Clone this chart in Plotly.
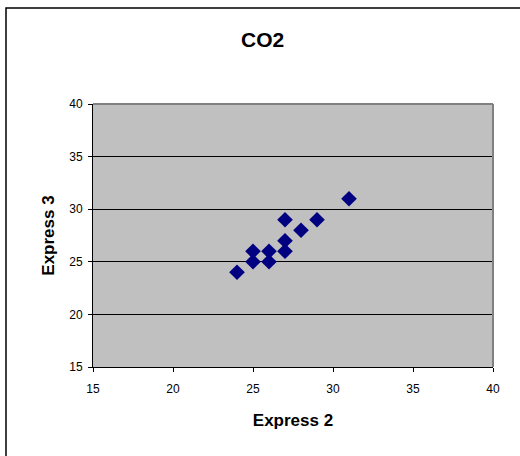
import plotly.graph_objects as go

# CO2 readings: Express 2 vs Express 3
express_2 = [24, 25, 25, 26, 26, 27, 27, 27, 28, 29, 31]
express_3 = [24, 25, 26, 25, 26, 26, 27, 29, 28, 29, 31]

tick_vals = [15, 20, 25, 30, 35, 40]

fig = go.Figure()

fig.add_trace(
    go.Scatter(
        x=express_2,
        y=express_3,
        mode='markers',
        marker=dict(symbol='diamond', size=12, color='#000080', line=dict(width=0)),
        showlegend=False,
    )
)

axis_font = dict(family='Liberation Sans, Arial, sans-serif', size=12, color='black')
title_font = dict(family='Liberation Sans, Arial, sans-serif', size=17, color='black')

fig.update_xaxes(
    range=[15, 40],
    tickvals=tick_vals,
    showgrid=False,
    zeroline=False,
    showline=True, linecolor='black', linewidth=1,
    ticks='outside', ticklen=4, tickcolor='black',
    tickfont=axis_font, ticklabelstandoff=7,
    title=dict(text='<b>Express 2</b>', font=title_font, standoff=18),
)
fig.update_yaxes(
    range=[15, 40],
    tickvals=tick_vals,
    showgrid=True, gridcolor='black', gridwidth=1,
    zeroline=False,
    showline=True, linecolor='black', linewidth=1,
    ticks='outside', ticklen=4, tickcolor='black',
    tickfont=axis_font, ticklabelstandoff=3,
    title=dict(text='<b>Express 3</b>', font=title_font, standoff=10),
)

# gray border on top/right of plot area, plus outer chart frame
fig.add_shape(type='line', xref='paper', yref='paper', x0=0, x1=1, y0=1, y1=1,
              line=dict(color='#808080', width=2))
fig.add_shape(type='line', xref='paper', yref='paper', x0=1, x1=1, y0=0, y1=1,
              line=dict(color='#808080', width=2))
fig.add_shape(type='rect', xref='paper', yref='paper', x0=-0.2175, x1=1.1, y0=-0.37, y1=1.365,
              line=dict(color='black', width=1.5))

fig.update_layout(
    width=520,
    height=456,
    margin=dict(l=93, r=27, t=104, b=89),
    paper_bgcolor='white',
    plot_bgcolor='#C0C0C0',
    title=dict(
        text='<b>CO2</b>',
        x=0.505, xanchor='center',
        y=0.912, yanchor='middle',
        font=dict(family='Liberation Sans, Arial, sans-serif', size=21, color='black'),
    ),
)

fig.write_html("out.html", config={'displayModeBar': False},
               post_script="document.body.style.margin='0';")
